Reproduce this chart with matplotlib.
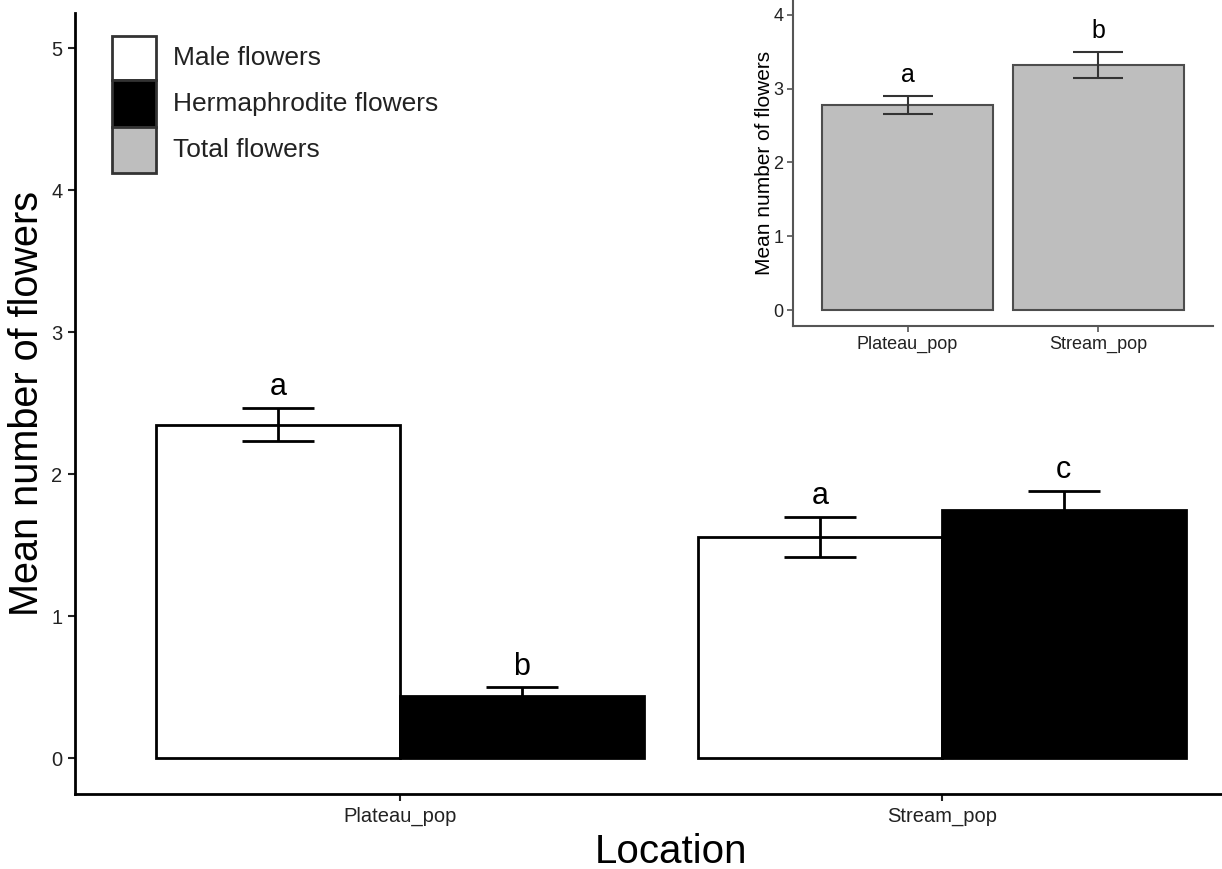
import matplotlib
matplotlib.use("Agg")
import matplotlib.pyplot as plt
from matplotlib.patches import Rectangle
import numpy as np

plt.rcParams['font.family'] = ['Liberation Sans', 'DejaVu Sans']

# ---- data ----
locations = ["Plateau_pop", "Stream_pop"]
male_mean = [2.35, 1.56]
male_se = [0.115, 0.14]
herm_mean = [0.44, 1.75]
herm_se = [0.06, 0.135]
male_letters = ["a", "a"]
herm_letters = ["b", "c"]

total_mean = [2.78, 3.32]
total_se = [0.12, 0.175]
total_letters = ["a", "b"]

legend_labels = ["Male flowers", "Hermaphrodite flowers", "Total flowers"]
legend_colors = ["white", "black", "#BEBEBE"]

W, H = 1222, 869
fig = plt.figure(figsize=(W / 100, H / 100), dpi=100)

def fx(px):
    return px / W

def fy(py):
    return 1 - py / H

# ---- main axes ----
ax_l, ax_r = 75, 1267
ax_t, ax_b = 12.5, 794
ax = fig.add_axes([fx(ax_l), fy(ax_b), fx(ax_r - ax_l), (ax_b - ax_t) / H])
x = np.arange(1, len(locations) + 1)
bw = 0.45
ax.bar(x - bw / 2, male_mean, width=bw, color="white", edgecolor="black", linewidth=2, zorder=2)
ax.bar(x + bw / 2, herm_mean, width=bw, color="black", edgecolor="black", linewidth=2, zorder=2)
ax.errorbar(x - bw / 2, male_mean, yerr=male_se, fmt="none", ecolor="black",
            elinewidth=2, capsize=26, capthick=2, zorder=3)
ax.errorbar(x + bw / 2, herm_mean, yerr=herm_se, fmt="none", ecolor="black",
            elinewidth=2, capsize=26, capthick=2, zorder=3)
for xi, m, s, t in zip(x - bw / 2, male_mean, male_se, male_letters):
    ax.text(xi, m + s + 0.09, t, ha="center", va="baseline", fontsize=22, color="black")
for xi, m, s, t in zip(x + bw / 2, herm_mean, herm_se, herm_letters):
    ax.text(xi, m + s + 0.09, t, ha="center", va="baseline", fontsize=22, color="black")

ax.set_xlim(0.4, 2.6)
ax.set_ylim(-0.25, 5.25)
ax.set_xticks(x)
ax.set_xticklabels(locations)
ax.set_yticks([0, 1, 2, 3, 4, 5])
ax.tick_params(axis="both", labelsize=14.5, labelcolor="#222222", color="#222222",
               length=5, width=1.5, pad=4)
for sp in ["top", "right"]:
    ax.spines[sp].set_visible(False)
for sp in ["left", "bottom"]:
    ax.spines[sp].set_linewidth(2)
    ax.spines[sp].set_color("black")
ax.set_xlabel("Location", fontsize=29, color="black")
ax.set_ylabel("Mean number of flowers", fontsize=28.5, color="black")
ax.xaxis.set_label_coords(0.5, -(852 - ax_b) / (ax_b - ax_t), transform=ax.transAxes)
ax.xaxis.label.set_va("center")
ax.yaxis.set_label_coords(-(ax_l - 27) / (ax_r - ax_l), 0.5, transform=ax.transAxes)
ax.yaxis.label.set_va("center")

# ---- legend (manual) ----
box_l, box_w = 112, 44
box_tops = [36, 80, 127]
box_h = [44, 47, 46]
for top, h, c, lab in zip(box_tops, box_h, legend_colors, legend_labels):
    fig.patches.append(Rectangle((fx(box_l), fy(top + h)), fx(box_w), h / H,
                                 transform=fig.transFigure, facecolor=c,
                                 edgecolor="#333333", linewidth=2))
    fig.text(fx(173), fy(top + h / 2), lab, ha="left", va="center",
             fontsize=19, color="#222222")

# ---- inset ----
in_l, in_r, in_t, in_b = 793, 1213, 0, 326
axi = fig.add_axes([fx(in_l), fy(in_b), fx(in_r - in_l), (in_b - in_t) / H])
axi.set_facecolor("white")
axi.bar(x, total_mean, width=0.9, color="#BEBEBE", edgecolor="#4d4d4d", linewidth=1.5, zorder=2)
axi.errorbar(x, total_mean, yerr=total_se, fmt="none", ecolor="#333333",
             elinewidth=1.5, capsize=18, capthick=1.5, zorder=3)
for xi, m, s, t in zip(x, total_mean, total_se, total_letters):
    axi.text(xi, m + s + 0.19, t, ha="center", va="baseline", fontsize=18, color="black")
axi.set_xlim(0.4, 2.6)
axi.set_ylim(-0.215, 4.2)
axi.set_xticks(x)
axi.set_xticklabels(locations)
axi.set_yticks([0, 1, 2, 3, 4])
axi.tick_params(axis="both", labelsize=13, labelcolor="#222222", color="#555555",
                length=4, width=1.2, pad=3)
for sp in ["top", "right"]:
    axi.spines[sp].set_visible(False)
for sp in ["left", "bottom"]:
    axi.spines[sp].set_linewidth(1.5)
    axi.spines[sp].set_color("#555555")
axi.set_ylabel("Mean number of flowers", fontsize=15, color="black")
axi.yaxis.set_label_coords(-(in_l - 765) / (in_r - in_l), (in_b - 163) / (in_b - in_t),
                           transform=axi.transAxes)
axi.yaxis.label.set_va("center")

fig.savefig("out.png", dpi=100)
